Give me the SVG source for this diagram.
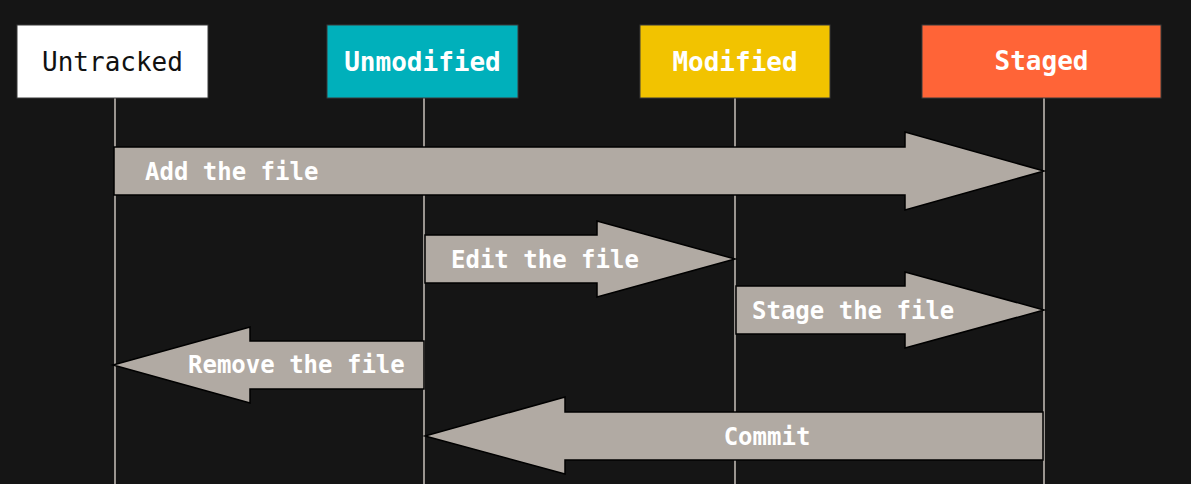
<svg xmlns="http://www.w3.org/2000/svg" width="1191" height="484" viewBox="0 0 1191 484">
  <style>
    .box { stroke: #3a3a3a; stroke-width: 1; }
    .lbl { font-family: "DejaVu Sans Mono", "Liberation Mono", monospace; font-size: 26px; text-anchor: middle; }
    .life { stroke: #9a9590; stroke-width: 2; fill: none; }
    .arrow { fill: #b1aaa3; stroke: #000; stroke-width: 1.5; stroke-linejoin: miter; }
    .alabel { font-family: "DejaVu Sans Mono", "Liberation Mono", monospace; font-size: 24px; font-weight: bold; fill: #ffffff; }
  </style>
  <rect x="0" y="0" width="1191" height="484" fill="#151515"/>

  <!-- lifelines -->
  <g id="lifelines">
    <line class="life" x1="115" y1="98" x2="115" y2="484"/>
    <line class="life" x1="424" y1="98" x2="424" y2="484"/>
    <line class="life" x1="735" y1="98" x2="735" y2="484"/>
    <line class="life" x1="1044" y1="98" x2="1044" y2="484"/>
  </g>

  <g id="untracked">
    <rect class="box" x="17" y="25" width="191" height="73" fill="#ffffff"/>
    <text class="lbl" x="112.5" y="71" fill="#111111">Untracked</text>
  </g>
  <g id="unmodified">
    <rect class="box" x="327" y="25" width="191" height="73" fill="#00b0bb"/>
    <text class="lbl" x="422.5" y="71" fill="#ffffff" font-weight="bold">Unmodified</text>
  </g>
  <g id="modified">
    <rect class="box" x="640" y="25" width="190" height="73" fill="#f2c300"/>
    <text class="lbl" x="735" y="71" fill="#ffffff" font-weight="bold">Modified</text>
  </g>
  <g id="staged">
    <rect class="box" x="922" y="25" width="239" height="73" fill="#ff6437"/>
    <text class="lbl" x="1041.5" y="70" fill="#ffffff" font-weight="bold">Staged</text>
  </g>

  <!-- transitions between states -->
  <g id="connectors">
    <g id="add-the-file">
      <polygon class="arrow" points="114,147 905,147 905,132 1044,171 905,210 905,195 114,195"/>
      <text class="alabel" x="145" y="180">Add the file</text>
    </g>
    <g id="edit-the-file">
      <polygon class="arrow" points="425,235 597,235 597,221 735,259 597,297 597,283 425,283"/>
      <text class="alabel" x="451" y="268">Edit the file</text>
    </g>
    <g id="stage-the-file">
      <polygon class="arrow" points="736,286 905,286 905,272 1044,310 905,348 905,334 736,334"/>
      <text class="alabel" x="752" y="319">Stage the file</text>
    </g>
    <g id="remove-the-file">
      <polygon class="arrow" points="424,341 250,341 250,327 113,365 250,403 250,389 424,389"/>
      <text class="alabel" x="188" y="373">Remove the file</text>
    </g>
    <g id="commit">
      <polygon class="arrow" points="1043,412 565,412 565,397 425,436 565,474 565,460 1043,460"/>
      <text class="alabel" x="767" y="445" text-anchor="middle">Commit</text>
    </g>
  </g>
</svg>
